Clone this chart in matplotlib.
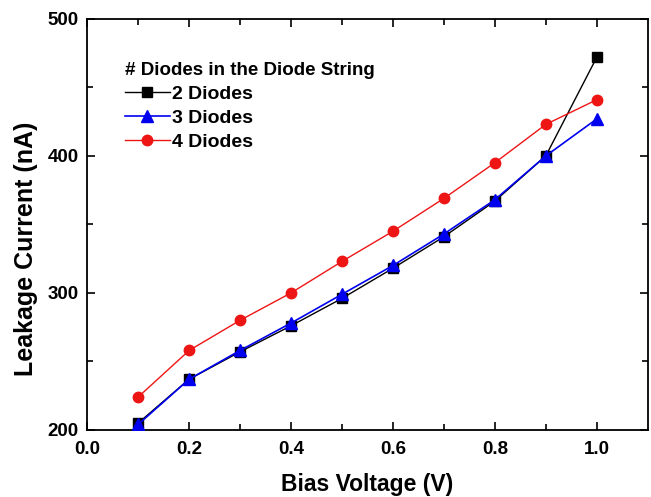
import numpy as np
import matplotlib.pyplot as plt

plt.rcParams['font.family'] = ['Liberation Sans', 'DejaVu Sans']
plt.rcParams['font.weight'] = 'bold'

# datos
voltaje = [0.1, 0.2, 0.3, 0.4, 0.5, 0.6, 0.7, 0.8, 0.9, 1.0]
diodos_2 = [205, 237, 257, 276, 296, 318, 341, 367, 400, 472]
diodos_3 = [204, 237, 258, 278, 299, 320, 343, 368, 400, 427]
diodos_4 = [224, 258, 280, 300, 323, 345, 369, 395, 423, 441]

fig = plt.figure(figsize=(6.51, 4.97), dpi=100)
ax = fig.add_axes([0.134, 0.135, 0.861, 0.827])

ax.plot(voltaje, diodos_2, '-', color='black', lw=1.0, marker='s', ms=6.5, label='2 Diodes', zorder=2)
ax.plot(voltaje, diodos_3, '-', color='#0000ee', lw=1.2, marker='^', ms=8, label='3 Diodes', zorder=3)
ax.plot(voltaje, diodos_4, '-', color='#ee1515', lw=1.0, marker='o', ms=7.5, label='4 Diodes', zorder=4)

ax.set_xlim(0.0, 1.1)
ax.set_ylim(200, 500)
ax.set_xticks(np.arange(0.0, 1.01, 0.2))
ax.set_xticks(np.arange(0.1, 1.1, 0.2), minor=True)
ax.set_yticks([200, 300, 400, 500])
ax.set_yticks([250, 350, 450], minor=True)
ax.tick_params(which='both', direction='in', top=True, right=True, labelsize=13.5, width=1.2)
ax.tick_params(which='major', length=6)
ax.tick_params(which='minor', length=4)
ax.tick_params(axis='x', which='major', pad=8)
ax.tick_params(axis='y', which='major', pad=6)
for s in ax.spines.values():
    s.set_linewidth(1.3)

ax.set_xlabel('Bias Voltage (V)', fontsize=16.5, fontweight='bold')
ax.set_ylabel('Leakage Current (nA)', fontsize=18, fontweight='bold')
ax.xaxis.set_label_coords(0.5, -0.105)
ax.yaxis.set_label_coords(-0.088, 0.44)

leg = ax.legend(title='# Diodes in the Diode String', loc='upper left', bbox_to_anchor=(0.067, 0.895),
                frameon=False, fontsize=14, title_fontsize=13.5, handlelength=2.3,
                handletextpad=0.15, labelspacing=0.32, borderaxespad=0, borderpad=0)
leg._legend_box.align = 'left'
leg.get_title().set_fontweight('bold')

fig.savefig('out.png', dpi=100)
